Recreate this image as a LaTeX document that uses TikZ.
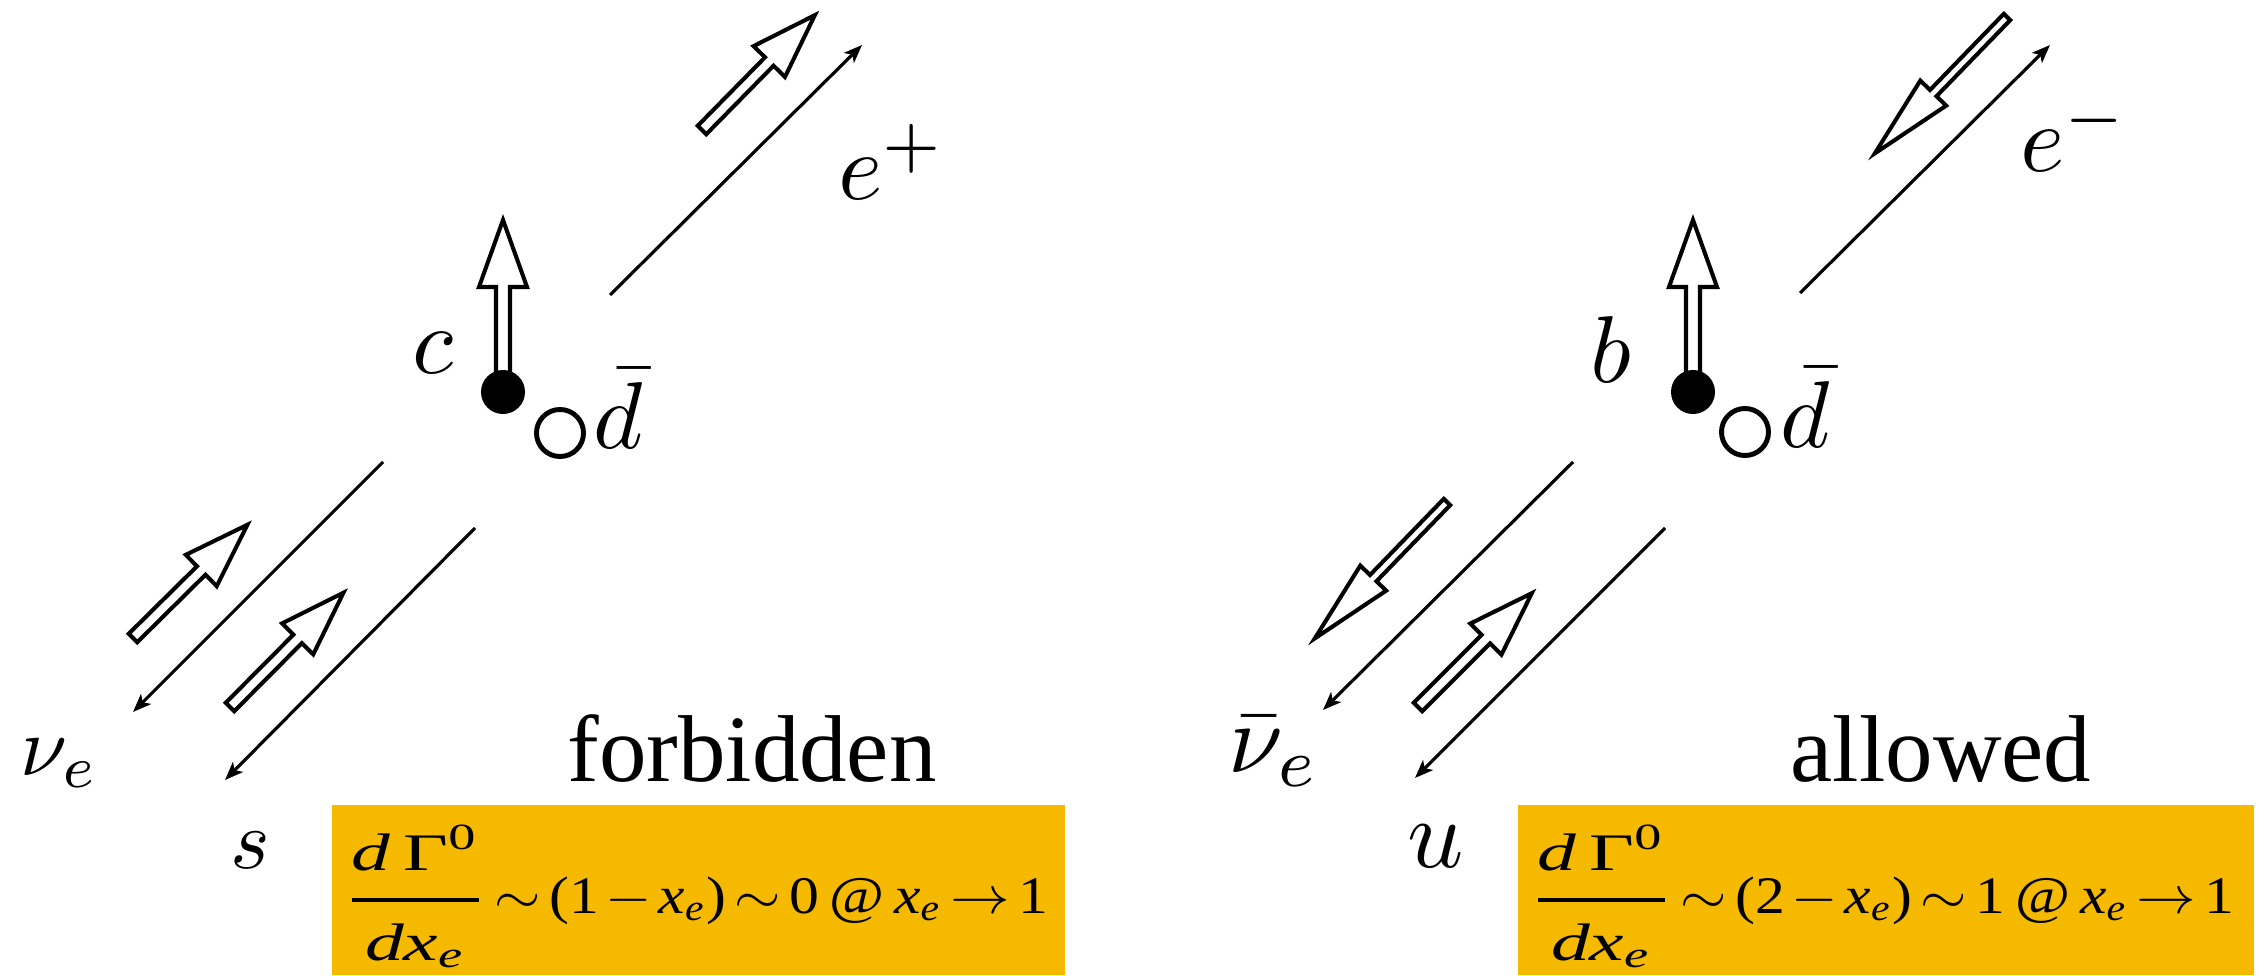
\documentclass[tikz,border=0pt]{standalone}
\usepackage{amsmath}
\usepackage{fontspec}
\newfontfamily\timesfont{Liberation Serif}
\usepackage{tikz}
\usetikzlibrary{arrows.meta}
\definecolor{rategold}{RGB}{245, 185, 0}
\newcommand{\ti}[1]{\textit{#1}}
\newcommand{\tightmath}{\thickmuskip=2.5mu\relax\medmuskip=2mu\relax}
\newcommand{\dGdx}{\genfrac{}{}{0.75pt}{0}{\rule[-2.9pt]{0pt}{2.9pt}\scalebox{1.3}[1]{$\ti{d}\,\text{Γ}^{\text{0}}$}}{\rule{0pt}{8.8pt}\scalebox{1.3}[1]{$\ti{dx}_{\ti{e}}$}}}
\tikzset{
  pics/spin/.style n args={4}{code={
    \draw[spinline] (0,-#4) -- ({#1-#2},-#4) -- ({#1-#2},-#3) -- (#1,0) -- ({#1-#2},#3) -- ({#1-#2},#4) -- (0,#4) -- cycle;
  }}
}

\begin{document}
\begin{tikzpicture}[
  x=0.01cm, y=0.01cm,
  mom/.style={line width=0.9pt, -{Stealth[length=5.2pt, width=4pt, inset=1.3pt]}},
  spinline/.style={draw, line width=1.15pt, fill=white, line join=miter},
  lbl/.style={inner sep=0pt},
  verdict/.style={inner sep=0pt, font=\timesfont\fontsize{27}{30}\selectfont},
  rate/.style={inner sep=0pt, font=\timesfont\tightmath},
  qdot/.style={circle, fill=black, inner sep=0pt, minimum size=0.44cm},
  antiq/.style={circle, draw, line width=1.4pt, inner sep=0pt, minimum size=0.47cm}
]
  \useasboundingbox (0,0) rectangle (2266,975);

  % left: c dbar -> s e+ nu
  \coordinate (epA) at (610,680);  \coordinate (epB) at (862,930);
  \coordinate (nuA) at (383,513);  \coordinate (nuB) at (133,263);
  \coordinate (sA)  at (475,447);  \coordinate (sB)  at (225,195);
  \draw[mom] (epA) -- (epB);
  \draw[mom] (nuA) -- (nuB);
  \draw[mom] (sA) -- (sB);
  \pic[rotate=45.5] at (702,845) {spin={161}{65}{22}{6}};
  \pic[rotate=44.7] at (133,337) {spin={161}{65}{22}{6}};
  \pic[rotate=45.2] at (230,268) {spin={161}{65}{22}{6}};
  \pic[rotate=90] at (503,590) {spin={165}{67}{24}{7}};
  \node[qdot] (cq) at (503,583) {};
  \node[antiq] (dbL) at (560,542) {};
  \node[lbl, anchor=base west] (cLbl) at (412,602) {\scalebox{2.7}{$c$}};
  \node[lbl, anchor=base west] (dLblL) at (593,527) {\scalebox{2.7}{$\bar{d}$}};
  \node[lbl, anchor=base west] (epLbl) at (838,775) {\scalebox{2.7}{$e^{+}$}};
  \node[lbl, anchor=base west] (nuLbl) at (20,200) {\scalebox{2.4}{$\nu_e$}};
  \node[lbl, anchor=base west] (sLbl) at (230,107) {\scalebox{2.4}{$s$}};
  \node[verdict, anchor=base] (forb) at (752,194) {forbidden};
  \fill[rategold] (332,0) rectangle (1065,170);
  \node[rate, anchor=base west] (rateL) at (344,62) {\resizebox{200pt}{1.5\height}{$\dGdx\sim\text{(1}-\ti{x}_{\ti{e}}\text{)}\sim\text{0}\,\text{@}\,\ti{x}_{\ti{e}}\to\text{1}$}};

  % right: b dbar -> u e- nubar
  \coordinate (emA) at (1800,682); \coordinate (emB) at (2050,930);
  \coordinate (nbA) at (1573,513); \coordinate (nbB) at (1323,265);
  \coordinate (uA)  at (1665,447); \coordinate (uB)  at (1415,197);
  \draw[mom] (emA) -- (emB);
  \draw[mom] (nbA) -- (nbB);
  \draw[mom] (uA) -- (uB);
  \pic[rotate=225.9] at (2007,958) {spin={190}{84}{18}{4.5}};
  \pic[rotate=225.9] at (1447,473) {spin={190}{84}{18}{4.5}};
  \pic[rotate=45] at (1418,268) {spin={161}{65}{22}{6}};
  \pic[rotate=90] at (1693,590) {spin={165}{67}{24}{7}};
  \node[qdot] (bq) at (1693,583) {};
  \node[antiq] (dbR) at (1745,543) {};
  \node[lbl, anchor=base west] (bLbl) at (1590,593) {\scalebox{2.7}{$b$}};
  \node[lbl, anchor=base west] (dLblR) at (1780,528) {\scalebox{2.7}{$\bar{d}$}};
  \node[lbl, anchor=base west] (emLbl) at (2020,803) {\scalebox{2.7}{$e^{-}$}};
  \node[lbl, anchor=base west] (nbLbl) at (1228,203) {\scalebox{2.8}{$\bar{\nu}_e$}};
  \node[lbl, anchor=base west] (uLbl) at (1407,108) {\scalebox{2.8}{$u$}};
  \node[verdict, anchor=base] (allw) at (1941,194) {allowed};
  \fill[rategold] (1518,0) rectangle (2254,170);
  \node[rate, anchor=base west] (rateR) at (1530,62) {\resizebox{200pt}{1.5\height}{$\dGdx\sim\text{(2}-\ti{x}_{\ti{e}}\text{)}\sim\text{1}\,\text{@}\,\ti{x}_{\ti{e}}\to\text{1}$}};
\end{tikzpicture}
\end{document}
